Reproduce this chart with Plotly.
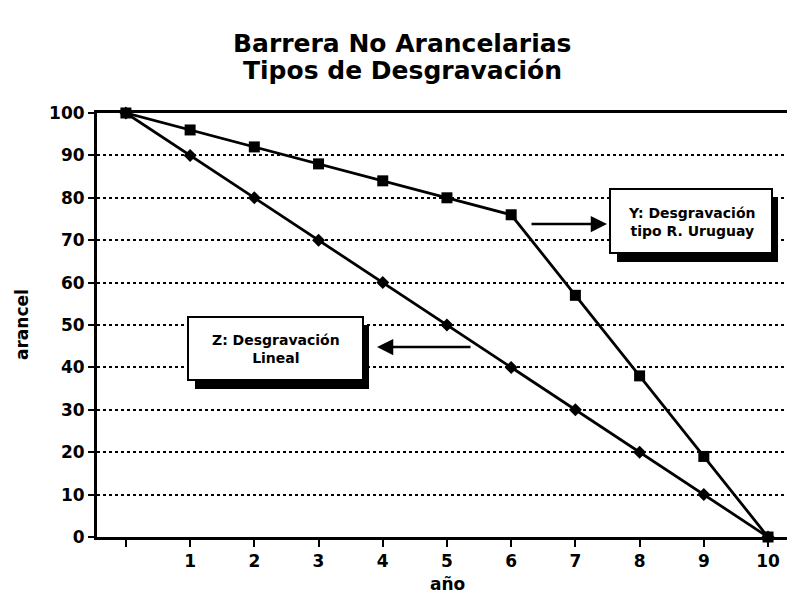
import plotly.graph_objects as go

years = [0, 1, 2, 3, 4, 5, 6, 7, 8, 9, 10]
y_uruguay = [100, 96, 92, 88, 84, 80, 76, 57, 38, 19, 0]
z_lineal = [100, 90, 80, 70, 60, 50, 40, 30, 20, 10, 0]
x_ticktext = ["", "1", "2", "3", "4", "5", "6", "7", "8", "9", "10"]
y_ticks = [0, 10, 20, 30, 40, 50, 60, 70, 80, 90, 100]
title_lines = ["Barrera No Arancelarias", "Tipos de Desgravación"]

FONT = "DejaVu Sans"
OFF = 8  # page body margin
W, H = 795 - OFF, 596 - OFF
XR = [-0.45, 10.42]
YR = [0, 100]
# plot area in reference-page pixels
L, R, T, B = 97, 795, 113, 537


def dx(px):
    return XR[0] + (px - L) / (R - L) * (XR[1] - XR[0])


def dy(py):
    return YR[0] + (B - py) / (B - T) * (YR[1] - YR[0])


def cx(px):
    return (px - OFF) / W


def cy(py):
    return 1 - (py - OFF) / H


fig = go.Figure()
fig.add_trace(go.Scatter(x=years, y=y_uruguay, mode="lines+markers",
                         line=dict(color="black", width=2.8),
                         marker=dict(symbol="square", size=11, color="black"),
                         cliponaxis=False, showlegend=False))
fig.add_trace(go.Scatter(x=years, y=z_lineal, mode="lines+markers",
                         line=dict(color="black", width=2.8),
                         marker=dict(symbol="diamond", size=10, color="black"),
                         cliponaxis=False, showlegend=False))

shapes = []
for (x0, y0, x1, y1) in [(610, 189, 772, 253), (188, 317, 363, 380)]:
    shapes.append(dict(type="rect", xref="x", yref="y",
                       x0=dx(x0 + 7), x1=dx(x1 + 6), y0=dy(y0 + 8), y1=dy(y1 + 9),
                       fillcolor="black", line=dict(width=0), layer="above"))
    shapes.append(dict(type="rect", xref="x", yref="y",
                       x0=dx(x0), x1=dx(x1), y0=dy(y0), y1=dy(y1),
                       fillcolor="white", line=dict(color="black", width=2), layer="above"))

bold = dict(family=FONT, color="black", weight="bold")
annotations = [
    dict(xref="paper", yref="paper", x=(402 - L) / (R - L), y=(B - 43) / (B - T),
         text=title_lines[0], showarrow=False, yanchor="middle",
         font=dict(bold, size=25)),
    dict(xref="paper", yref="paper", x=(402 - L) / (R - L), y=(B - 71) / (B - T),
         text=title_lines[1], showarrow=False, yanchor="middle",
         font=dict(bold, size=25)),
    dict(xref="x", yref="y", x=dx(691), y=dy(222),
         text="Y: Desgravación<br>tipo R. Uruguay", showarrow=False,
         font=dict(bold, size=14), align="center"),
    dict(xref="x", yref="y", x=dx(276), y=dy(349),
         text="Z: Desgravación<br>Lineal", showarrow=False,
         font=dict(bold, size=14), align="center"),
    dict(xref="x", yref="y", x=dx(607), y=dy(224), axref="x", ayref="y",
         ax=dx(530), ay=dy(224), text="", showarrow=True, arrowhead=2,
         arrowsize=1.3, arrowwidth=2.5, arrowcolor="black"),
    dict(xref="x", yref="y", x=dx(377), y=dy(347), axref="x", ayref="y",
         ax=dx(472), ay=dy(347), text="", showarrow=True, arrowhead=2,
         arrowsize=1.3, arrowwidth=2.5, arrowcolor="black"),
    dict(xref="paper", yref="paper", x=(447 - L) / (R - L), y=(B - 584) / (B - T),
         text="año", showarrow=False, yanchor="middle",
         font=dict(bold, size=17)),
    dict(xref="paper", yref="paper", x=(22 - L) / (R - L), y=(B - 325) / (B - T),
         text="arancel", showarrow=False, textangle=-90, xanchor="center",
         font=dict(bold, size=17)),
]

fig.update_layout(
    width=W, height=H,
    margin=dict(l=L - OFF, r=795 - R, t=T - OFF, b=596 - B, pad=0),
    paper_bgcolor="white", plot_bgcolor="white",
    shapes=shapes, annotations=annotations,
)
fig.update_xaxes(range=XR, tickvals=years, ticktext=x_ticktext,
                 showgrid=False, zeroline=False,
                 showline=True, linecolor="black", linewidth=3, mirror=True,
                 ticks="outside", ticklen=7, tickwidth=2, tickcolor="black",
                 tickfont=dict(bold, size=17))
fig.update_yaxes(range=YR, tickvals=y_ticks,
                 showgrid=True, gridcolor="black", griddash="dot", gridwidth=1.5,
                 zeroline=False,
                 showline=True, linecolor="black", linewidth=3,
                 ticks="outside", ticklen=6, tickwidth=2, tickcolor="black",
                 tickfont=dict(bold, size=17))

fig.write_html("out.html")
